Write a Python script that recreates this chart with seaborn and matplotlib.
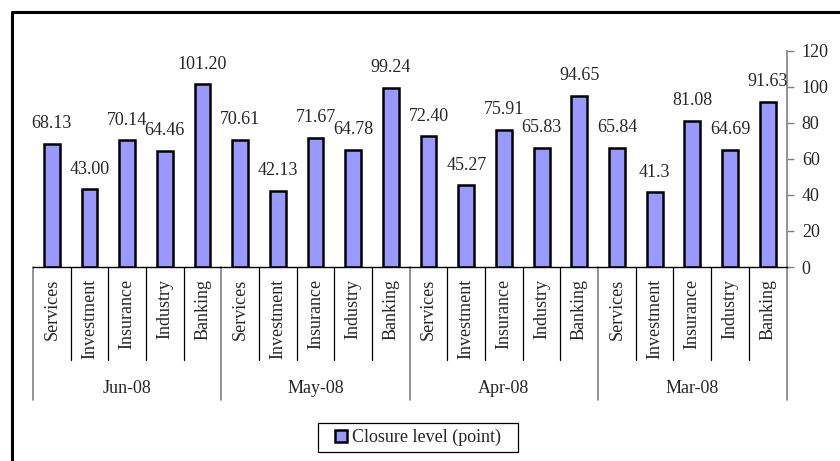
import matplotlib
matplotlib.use("Agg")
import matplotlib.pyplot as plt
from matplotlib.lines import Line2D
from matplotlib.patches import Patch, Rectangle
import matplotlib.transforms as mtransforms
import seaborn as sns
import pandas as pd

# ---- data ----
months = ["Jun-08", "May-08", "Apr-08", "Mar-08"]
sectors = ["Services", "Investment", "Insurance", "Industry", "Banking"]
jun_values = [68.13, 43.00, 70.14, 64.46, 101.20]
may_values = [70.61, 42.13, 71.67, 64.78, 99.24]
apr_values = [72.40, 45.27, 75.91, 65.83, 94.65]
mar_values = [65.84, 41.30, 81.08, 64.69, 91.63]
value_labels = ["68.13", "43.00", "70.14", "64.46", "101.20",
                "70.61", "42.13", "71.67", "64.78", "99.24",
                "72.40", "45.27", "75.91", "65.83", "94.65",
                "65.84", "41.3", "81.08", "64.69", "91.63"]
y_ticks = [0, 20, 40, 60, 80, 100, 120]
series_name = "Closure level (point)"

all_values = [jun_values, may_values, apr_values, mar_values]
rows = []
for m, vals in zip(months, all_values):
    for s, v in zip(sectors, vals):
        rows.append({"key": f"{m}|{s}", "month": m, "sector": s, "value": v})
df = pd.DataFrame(rows)
order = list(df["key"])

sns.set_style("white")
plt.rcParams["font.family"] = ["Liberation Serif", "DejaVu Serif"]
FS = 13

fig = plt.figure(figsize=(8.4, 4.61), dpi=100)
W, H = 840, 461
x0, x1 = 33, 786.5
ytop, ybot = 50.5, 267
ax = fig.add_axes([x0 / W, 1 - ybot / H, (x1 - x0) / W, (ybot - ytop) / H])

bar_color = "#9999FF"
sns.barplot(data=df, x="key", y="value", order=order, color=bar_color,
            saturation=1, edgecolor="black", linewidth=1.8, width=0.42, ax=ax)

n = len(order)
ax.set_xlim(-0.5, n - 0.5)
ax.set_ylim(0, 120)
ax.set_xlabel("")
ax.set_ylabel("")
ax.set_facecolor("white")

# right-hand value axis
ax.yaxis.tick_right()
ax.set_yticks(y_ticks)
ax.set_yticklabels([str(t) for t in y_ticks], fontsize=FS)
ax.tick_params(axis="y", right=True, left=False, direction="out", length=5,
               width=1, color="#808080", pad=6)
ax.tick_params(axis="x", bottom=False, labelbottom=False)
for side in ["left", "top"]:
    ax.spines[side].set_visible(False)
ax.spines["right"].set_color("#808080")
ax.spines["right"].set_linewidth(1.2)
ax.spines["bottom"].set_color("black")
ax.spines["bottom"].set_linewidth(1)

# data labels
ax.bar_label(ax.containers[0], labels=value_labels, padding=8.5, fontsize=FS)

# multi-level category axis
trans = mtransforms.blended_transform_factory(ax.transData, ax.transAxes)
axh = ybot - ytop
short_end = -(360 - ybot) / axh
long_end = -(400 - ybot) / axh
for k in range(n + 1):
    xpos = k - 0.5
    if k % len(sectors) == 0:
        ax.add_line(Line2D([xpos, xpos], [0, long_end], transform=trans,
                           color="#808080", lw=1.2, clip_on=False))
    else:
        ax.add_line(Line2D([xpos, xpos], [0, short_end], transform=trans,
                           color="black", lw=0.9, clip_on=False))

for i, row in df.iterrows():
    ax.text(i, -(279 - ybot) / axh, row["sector"], rotation=90, ha="center",
            va="top", fontsize=FS, transform=trans)

for j, m in enumerate(months):
    center = j * len(sectors) + (len(sectors) - 1) / 2
    ax.text(center, -(388 - ybot) / axh, m, ha="center", va="center",
            fontsize=FS, transform=trans)

# legend (frame drawn as a separate box, as in the reference)
lx0, lx1, ly0, ly1 = 318, 518, 423, 452
fig.add_artist(Rectangle((lx0 / W, 1 - ly1 / H), (lx1 - lx0) / W, (ly1 - ly0) / H,
                         transform=fig.transFigure, facecolor="white",
                         edgecolor="black", lw=0.9))
handle = Patch(facecolor=bar_color, edgecolor="black", linewidth=1.8)
fig.legend([handle], [series_name], loc="center",
           bbox_to_anchor=((lx0 + lx1) / 2 / W, 1 - (ly0 + ly1) / 2 / H),
           frameon=False, fontsize=FS, handlelength=0.65, handleheight=0.65,
           handletextpad=0.25, borderpad=0.0, borderaxespad=0)

# outer chart border (partly cropped in the image)
fig.add_artist(Line2D([12 / W, 12 / W, 1.01], [-0.01, 1 - 12.5 / H, 1 - 12.5 / H],
                      transform=fig.transFigure, color="black", lw=2.2))

fig.savefig("out.png", dpi=100, facecolor="white")
